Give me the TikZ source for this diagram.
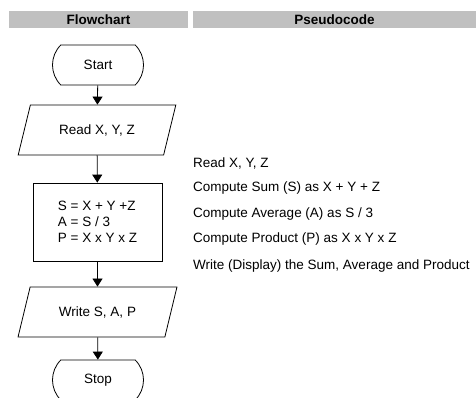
\documentclass[tikz,border=0pt]{standalone}
\usepackage{fontspec}
\setmainfont{Liberation Sans}
\usetikzlibrary{shapes.geometric,shapes.misc,arrows.meta}
\definecolor{headgray}{RGB}{192,192,192}
\tikzset{
  terminal/.style={draw,rounded rectangle,rounded rectangle arc length=90,
    minimum width=91pt,minimum height=40pt,inner sep=0pt},
  io/.style={draw,trapezium,trapezium left angle=59,trapezium right angle=121,
    trapezium stretches=true,minimum width=159pt,minimum height=50pt,inner sep=0pt},
  process/.style={draw,rectangle,minimum width=129pt,minimum height=78pt,align=left},
  header/.style={fill=headgray,minimum height=17pt,inner sep=0pt,
    font=\bfseries\fontsize{13.5}{16}\selectfont},
  pseudo/.style={anchor=base west,inner sep=0pt}
}
\begin{document}
\begin{tikzpicture}[x=1pt,y=-1pt,font=\fontsize{13.5}{16}\selectfont]
  \useasboundingbox (0,0) rectangle (476,398);

  % column headers
  \node[header,minimum width=179pt] (fchead) at (98.5,19.5) {Flowchart};
  \node[header,minimum width=283pt] (pchead) at (334.5,19.5) {Pseudocode};

  % flowchart
  \begin{scope}[line width=0.8pt]
    \node[terminal] (start) at (98,65)    {Start};
    \node[io]       (read)  at (97,130)   {Read X, Y, Z};
    \node[process]  (calc)  at (97.5,222) {S = X + Y +Z\\A = S / 3\\P = X x Y x Z};
    \node[io]       (write) at (97.5,312) {Write S, A, P};
    \node[terminal] (stop)  at (98,380)   {Stop};

    \begin{scope}[every edge/.style={draw,-{Triangle[width=10pt,length=8pt]}}]
      \path (start) edge (read);
      \path (read)  edge (calc);
      \path (calc)  edge (write);
      \path (write) edge (stop);
    \end{scope}
  \end{scope}

  % pseudocode
  \node[pseudo] (p1) at (193,167.5) {Read X, Y, Z};
  \node[pseudo] (p2) at (193,191.5) {Compute Sum (S) as X + Y + Z};
  \node[pseudo] (p3) at (193,217.5) {Compute Average (A) as S / 3};
  \node[pseudo] (p4) at (193,242.5) {Compute Product (P) as X x Y x Z};
  \node[pseudo] (p5) at (193,269.5) {Write (Display) the Sum, Average and Product};

\end{tikzpicture}
\end{document}
